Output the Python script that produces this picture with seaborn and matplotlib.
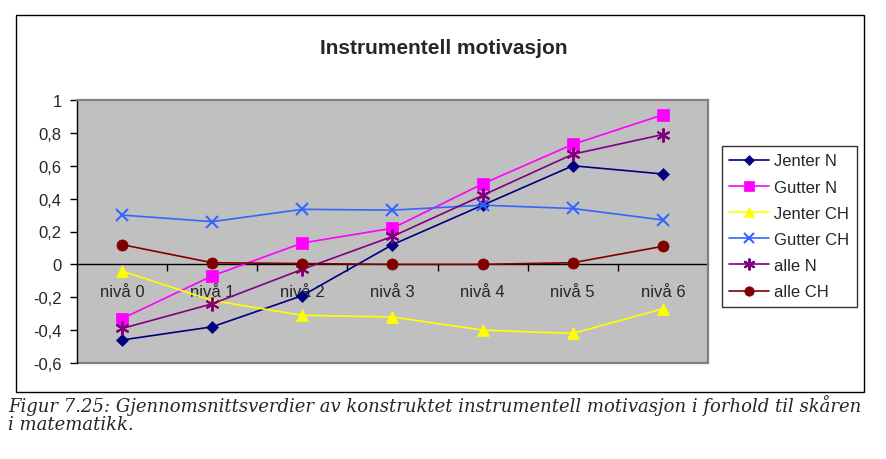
import matplotlib
matplotlib.use("Agg")
import matplotlib.pyplot as plt
from matplotlib.patches import Rectangle
import seaborn as sns
import pandas as pd
import numpy as np

categories = ["nivå 0", "nivå 1", "nivå 2", "nivå 3", "nivå 4", "nivå 5", "nivå 6"]
jenter_n = [-0.46, -0.38, -0.19, 0.12, 0.36, 0.60, 0.55]
gutter_n = [-0.33, -0.07, 0.13, 0.22, 0.49, 0.73, 0.91]
jenter_ch = [-0.04, -0.22, -0.31, -0.32, -0.40, -0.42, -0.27]
gutter_ch = [0.30, 0.26, 0.335, 0.33, 0.36, 0.34, 0.27]
alle_n = [-0.39, -0.24, -0.03, 0.17, 0.42, 0.67, 0.79]
alle_ch = [0.12, 0.01, 0.005, 0.0, 0.0, 0.01, 0.11]
series_names = ["Jenter N", "Gutter N", "Jenter CH", "Gutter CH", "alle N", "alle CH"]
yticks = [-0.6, -0.4, -0.2, 0, 0.2, 0.4, 0.6, 0.8, 1]
ytick_labels = ["-0,6", "-0,4", "-0,2", "0", "0,2", "0,4", "0,6", "0,8", "1"]
title = "Instrumentell motivasjon"
caption1 = "Figur 7.25: Gjennomsnittsverdier av konstruktet instrumentell motivasjon i forhold til skåren"
caption2 = "i matematikk."

values = [jenter_n, gutter_n, jenter_ch, gutter_ch, alle_n, alle_ch]
styles = {
    "Jenter N": dict(color="#000080", marker="D", ms=6),
    "Gutter N": dict(color="#FF00FF", marker="s", ms=8),
    "Jenter CH": dict(color="#FFFF00", marker="^", ms=9),
    "Gutter CH": dict(color="#3366FF", marker="x", ms=9),
    "alle N": dict(color="#800080", marker=(6, 2, 0), ms=10),
    "alle CH": dict(color="#800000", marker="o", ms=8),
}

sns.set_style("white")
plt.rcParams["font.family"] = ["Liberation Sans", "DejaVu Sans"]

fig = plt.figure(figsize=(8.87, 4.60), dpi=100)
ax = fig.add_axes([77/887, 1-364/460, (708-77)/887, (364-101)/460])
ax.set_facecolor("#C0C0C0")

x = np.arange(len(categories))
for name, vals in zip(series_names, values):
    st = styles[name]
    df = pd.DataFrame({"x": x, "y": vals})
    sns.lineplot(data=df, x="x", y="y", ax=ax, color=st["color"], marker=st["marker"],
                 markersize=st["ms"], markeredgecolor=st["color"],
                 markeredgewidth=1.5 if st["marker"] in ("x", (6, 2, 0)) else 0.5,
                 linewidth=1.2, label=name, clip_on=False, zorder=3)

ax.set_xlim(-0.5, 6.5)
ax.set_ylim(-0.6, 1.0)
ax.set_xlabel("")
ax.set_ylabel("")

for s in ["top", "right"]:
    ax.spines[s].set_color("#808080")
    ax.spines[s].set_linewidth(1.6)
ax.spines["left"].set_color("black")
ax.spines["left"].set_linewidth(1.0)
ax.spines["bottom"].set_position(("data", 0))
ax.spines["bottom"].set_color("black")
ax.spines["bottom"].set_linewidth(1.0)
ax.spines["bottom"].set_zorder(2)
ax.axhline(-0.6, color="#808080", lw=1.6, clip_on=False, zorder=1)

ax.set_yticks(yticks)
ax.set_yticklabels(ytick_labels, fontsize=12)
ax.tick_params(axis="y", direction="out", length=5, width=1, color="black", pad=6, left=True)

ax.set_xticks(x)
ax.set_xticklabels(categories, fontsize=12)
ax.tick_params(axis="x", which="major", length=0, pad=14)
ax.set_xticks(np.arange(0.5, 6, 1), minor=True)
ax.tick_params(axis="x", which="minor", direction="out", length=5, width=1, color="black", bottom=True)
ax.grid(False)

handles, labels = ax.get_legend_handles_labels()
ax.legend_.remove()
leg = fig.legend(handles, labels, loc="upper left", bbox_to_anchor=(722/887, 1-147/460),
                 borderaxespad=0, frameon=True, fancybox=False, edgecolor="black",
                 fontsize=12, handlelength=2.4, labelspacing=0.67, handletextpad=0.3,
                 borderpad=0.45, markerscale=0.85)
leg.get_frame().set_linewidth(1.0)

fig.patches.append(Rectangle((16/887, 1-393/460), (864-16)/887, (393-16)/460,
                             transform=fig.transFigure, fill=False, edgecolor="black", lw=1.0))

fig.text(444/887, 1-48/460, title, ha="center", va="center", fontsize=15, fontweight="bold")

fig.text(8/887, 1-395/460, caption1 + "\n" + caption2, ha="left", va="top", fontsize=13.0,
         family=["DejaVu Serif"], style="italic", linespacing=1.0)

fig.savefig("out.png", dpi=100)
